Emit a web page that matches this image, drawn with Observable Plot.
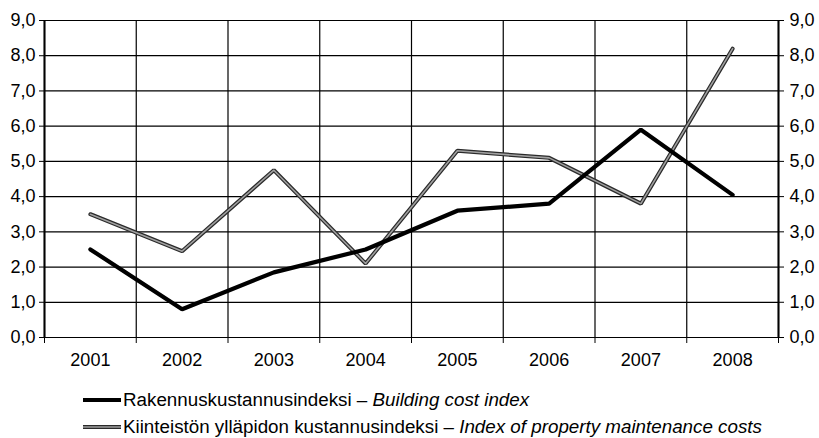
<!DOCTYPE html>
<html>
<head>
<meta charset="utf-8">
<script src="https://cdn.jsdelivr.net/npm/d3@7"></script>
<script src="https://cdn.jsdelivr.net/npm/@observablehq/plot@0.6"></script>
<style>
  body { margin: 0; background: #fff; font-family: "Liberation Sans", Arial, sans-serif; }
  #legend { position: relative; width: 819px; height: 63px; }
  .row { position: absolute; left: 83px; display: flex; align-items: center; font-size: 18.8px; color: #000; white-space: nowrap; }
  .row svg { margin-right: 2px; }
</style>
</head>
<body>
<div id="chart"></div>
<div id="legend"></div>
<script>
const years = ["2001", "2002", "2003", "2004", "2005", "2006", "2007", "2008"];
const buildingCost = [2.5, 0.8, 1.85, 2.5, 3.6, 3.8, 5.9, 4.05];
const maintenanceCost = [3.5, 2.45, 4.75, 2.1, 5.3, 5.1, 3.8, 8.2];
const yTicks = [0, 1, 2, 3, 4, 5, 6, 7, 8, 9];
const seriesNames = [
  ["Rakennuskustannusindeksi – ", "Building cost index"],
  ["Kiinteistön ylläpidon kustannusindeksi – ", "Index of property maintenance costs"]
];

const idx = years.map((_, i) => i);
const building = idx.map(i => ({x: i + 0.5, y: buildingCost[i]}));
const maint = idx.map(i => ({x: i + 0.5, y: maintenanceCost[i]}));
const bounds = d3.range(0, years.length + 1);
const fmt = d => d.toFixed(1).replace(".", ",");
const F = 18;

const chart = Plot.plot({
  width: 819,
  height: 375,
  marginTop: 20,
  marginBottom: 38,
  marginLeft: 44,
  marginRight: 41,
  style: {fontFamily: "Liberation Sans, Arial, sans-serif", color: "#000"},
  x: {type: "linear", domain: [0, years.length]},
  y: {type: "linear", domain: [0, 9]},
  marks: [
    Plot.ruleY(yTicks, {stroke: "#000", strokeWidth: 1.2}),
    Plot.ruleX(bounds, {stroke: "#000", strokeWidth: 1.2}),
    Plot.ruleX([0, years.length], {stroke: "#000", strokeWidth: 2}),
    Plot.axisY({ticks: yTicks, tickFormat: () => "", anchor: "left", tickSize: 5, label: null}),
    Plot.axisY({ticks: yTicks, tickFormat: () => "", anchor: "right", tickSize: 5, label: null}),
    Plot.text(yTicks, {x: 0, y: d => d, text: fmt, dx: -9, textAnchor: "end", fontSize: F, fill: "#000"}),
    Plot.text(yTicks, {x: years.length, y: d => d, text: fmt, dx: 11, textAnchor: "start", fontSize: F, fill: "#000"}),
    Plot.axisX({ticks: bounds, tickFormat: () => "", tickSize: 6, label: null}),
    Plot.text(idx, {x: i => i + 0.5, y: 0, text: i => years[i], dy: 23, fontSize: F, fill: "#000"}),
    Plot.line(maint, {x: "x", y: "y", stroke: "#2a2a2a", strokeWidth: 4, strokeLinejoin: "miter"}),
    Plot.line(maint, {x: "x", y: "y", stroke: "#a0a0a0", strokeWidth: 1.6, strokeLinejoin: "miter"}),
    Plot.line(building, {x: "x", y: "y", stroke: "#000", strokeWidth: 4.2, strokeLinejoin: "miter"})
  ]
});
document.getElementById("chart").appendChild(chart);

const legend = document.getElementById("legend");
seriesNames.forEach((name, i) => {
  const row = document.createElement("div");
  row.className = "row";
  row.style.top = (i === 0 ? 14 : 41) + "px";
  const sw = i === 0
    ? `<svg width="38" height="8"><line x1="0" x2="38" y1="4" y2="4" stroke="#000" stroke-width="4.2"/></svg>`
    : `<svg width="38" height="8"><line x1="0" x2="38" y1="4" y2="4" stroke="#2a2a2a" stroke-width="4"/><line x1="0" x2="38" y1="4" y2="4" stroke="#a0a0a0" stroke-width="1.6"/></svg>`;
  row.innerHTML = sw + `<span>${name[0]}<i>${name[1]}</i></span>`;
  legend.appendChild(row);
});
</script>
</body>
</html>
